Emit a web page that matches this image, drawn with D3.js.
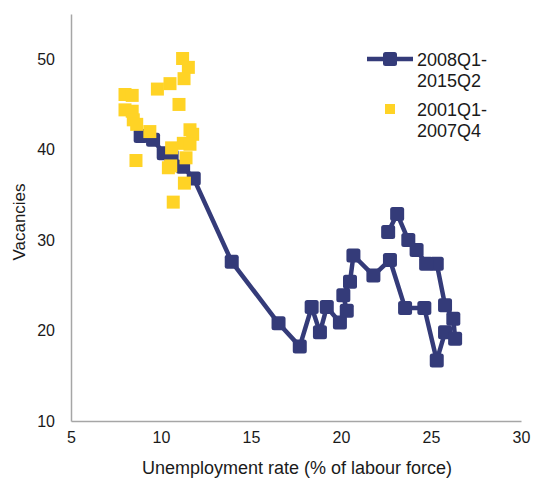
<!DOCTYPE html>
<html>
<head>
<meta charset="utf-8">
<script src="https://cdn.jsdelivr.net/npm/d3@7"></script>
<style>
  body { margin: 0; background: #fff; }
  svg text { font-family: "Liberation Sans", Arial, sans-serif; fill: #1a1a1a; }
</style>
</head>
<body>
<div id="chart"></div>
<script>
// 2008Q1-2015Q2 (connected line)
var crisisUnemp = [8.87, 9.56, 10.15, 10.59, 11.23, 11.82, 13.93, 16.53, 17.71, 18.37, 18.83, 19.21, 19.94, 20.32, 20.13, 20.50,
  20.69, 21.80, 22.72, 23.56, 24.63, 25.32, 25.78, 26.34, 26.24, 25.78, 25.32, 24.73, 24.20, 23.74, 23.12, 22.62];
var crisisVac = [41.5, 41.1, 39.6, 39.25, 38.1, 36.8, 27.6, 20.8, 18.25, 22.6, 19.8, 22.6, 20.9, 22.2, 23.9, 25.4,
  28.3, 26.1, 27.8, 22.5, 22.5, 16.7, 19.8, 19.1, 21.3, 22.8, 27.4, 27.4, 28.9, 30.0, 32.9, 30.9];

// 2001Q1-2007Q4 (scatter)
var boomUnemp = [8.00, 8.40, 8.00, 8.40, 8.46, 8.65, 9.38, 8.61, 9.80, 10.50, 11.20, 11.52, 11.28, 11.00,
  11.61, 11.76, 11.24, 11.61, 10.59, 11.39, 10.41, 10.54, 11.30, 10.68];
var boomVac = [46.1, 46.0, 44.4, 44.25, 43.3, 42.8, 42.0, 38.8, 46.7, 47.3, 50.08, 49.1, 47.85, 45.0,
  42.2, 41.7, 40.7, 40.6, 40.2, 39.1, 38.0, 38.2, 36.3, 34.2];

var xTicks = [5, 10, 15, 20, 25, 30];
var yTicks = [10, 20, 30, 40, 50];
var seriesNames = ["2008Q1-\n2015Q2", "2001Q1-\n2007Q4"];

var width = 533, height = 479;
var navy = "#343b79", gold = "#ffd325", axisGrey = "#a6a6a6";

var svg = d3.select("#chart").append("svg")
  .attr("width", width)
  .attr("height", height);

var x = d3.scaleLinear().domain([5, 30]).range([71, 521]);
var y = d3.scaleLinear().domain([10, 55]).range([421, 14]);

// axes: plain grey lines, no tick marks
var xAxis = svg.append("g")
  .attr("transform", "translate(0," + y(10) + ")")
  .call(d3.axisBottom(x).tickValues(xTicks).tickSize(0).tickPadding(10));
xAxis.select(".domain").attr("stroke", axisGrey).attr("stroke-width", 1.5);
xAxis.selectAll("text").attr("font-size", 16).attr("dy", "0.75em").attr("fill", "#1a1a1a");

var yAxis = svg.append("g")
  .attr("transform", "translate(" + x(5) + ",0)")
  .call(d3.axisLeft(y).tickValues(yTicks).tickSize(0).tickPadding(16));
yAxis.select(".domain").attr("stroke", axisGrey).attr("stroke-width", 1.5);
yAxis.selectAll("text").attr("font-size", 16).attr("fill", "#1a1a1a");

// axis titles
svg.append("text")
  .attr("x", 297)
  .attr("y", 474)
  .attr("text-anchor", "middle")
  .attr("font-size", 18)
  .text("Unemployment rate (% of labour force)");

svg.append("text")
  .attr("transform", "translate(25,222) rotate(-90)")
  .attr("text-anchor", "middle")
  .attr("font-size", 17)
  .text("Vacancies");

// crisis period: line with rounded square markers
var crisis = crisisUnemp.map(function(d, i) { return {u: d, v: crisisVac[i]}; });

var line = d3.line()
  .x(function(d) { return x(d.u); })
  .y(function(d) { return y(d.v); });

svg.append("path")
  .datum(crisis)
  .attr("d", line)
  .attr("fill", "none")
  .attr("stroke", navy)
  .attr("stroke-width", 4.5)
  .attr("stroke-linejoin", "round");

var ms = 14;
svg.selectAll("rect.crisis")
  .data(crisis)
  .enter().append("rect")
  .attr("class", "crisis")
  .attr("x", function(d) { return x(d.u) - ms / 2; })
  .attr("y", function(d) { return y(d.v) - ms / 2; })
  .attr("width", ms)
  .attr("height", ms)
  .attr("rx", 2.5)
  .attr("fill", navy);

// boom period: yellow squares drawn on top
var boom = boomUnemp.map(function(d, i) { return {u: d, v: boomVac[i]}; });
var bs = 13;
svg.selectAll("rect.boom")
  .data(boom)
  .enter().append("rect")
  .attr("class", "boom")
  .attr("x", function(d) { return x(d.u) - bs / 2; })
  .attr("y", function(d) { return y(d.v) - bs / 2; })
  .attr("width", bs)
  .attr("height", bs)
  .attr("fill", gold);

// legend
var legend = svg.append("g");
legend.append("line")
  .attr("x1", 367).attr("x2", 413)
  .attr("y1", 59).attr("y2", 59)
  .attr("stroke", navy)
  .attr("stroke-width", 4.5);
legend.append("rect")
  .attr("x", 390 - ms / 2).attr("y", 59 - ms / 2)
  .attr("width", ms).attr("height", ms)
  .attr("rx", 2.5)
  .attr("fill", navy);
legend.append("rect")
  .attr("x", 385).attr("y", 104)
  .attr("width", 10).attr("height", 10)
  .attr("fill", gold);

[66, 116].forEach(function(base, i) {
  var t = legend.append("text")
    .attr("x", 417)
    .attr("y", base)
    .attr("font-size", 18);
  seriesNames[i].split("\n").forEach(function(part, j) {
    t.append("tspan")
      .attr("x", 417)
      .attr("dy", j ? 21 : 0)
      .text(part);
  });
});
</script>
</body>
</html>
